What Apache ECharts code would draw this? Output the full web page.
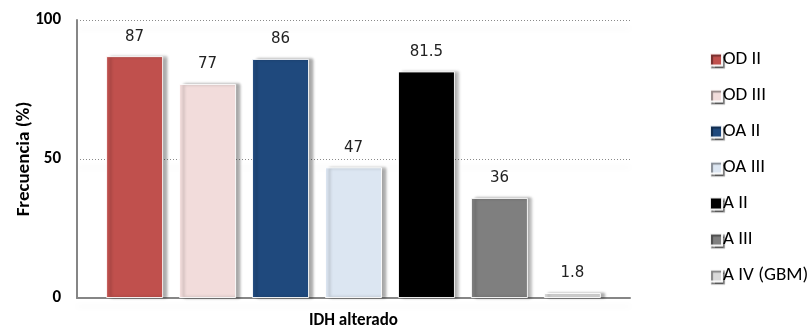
<!DOCTYPE html>
<html>
<head>
<meta charset="utf-8">
<script src="https://cdn.jsdelivr.net/npm/echarts@6/dist/echarts.min.js"></script>
<style>
  html, body { margin: 0; padding: 0; background: #fff; }
  #chart { width: 811px; height: 329px; }
</style>
</head>
<body>
<div id="chart"></div>
<script>
// IDH alteration frequency by tumour type and grade
const categories = ['IDH alterado'];
const seriesNames = ['OD II', 'OD III', 'OA II', 'OA III', 'A II', 'A III', 'A IV (GBM)'];
const values = [87, 77, 86, 47, 81.5, 36, 1.8];
const colors = ['#C0504D', '#F2DCDB', '#1F497D', '#DCE6F2', '#000000', '#7F7F7F', '#D9D9D9'];
const yTicks = [0, 50, 100];

const font = 'Calibri, Carlito, "Liberation Sans Narrow", "Liberation Sans", Arial, sans-serif';

const series = seriesNames.map((name, i) => ({
  name: name,
  type: 'bar',
  barWidth: 57,
  barGap: '28%',
  data: [values[i]],
  itemStyle: {
    color: colors[i],
    borderColor: 'rgba(255,255,255,0.9)',
    borderWidth: 1,
    shadowColor: 'rgba(0,0,0,0.35)',
    shadowBlur: 3,
    shadowOffsetX: 4,
    shadowOffsetY: 0
  },
  label: {
    show: true,
    position: 'top',
    distance: 12,
    color: '#222',
    fontSize: 15,
    fontFamily: '"DejaVu Sans", sans-serif',
    formatter: p => String(p.value)
  }
}));

const chart = echarts.init(document.getElementById('chart'));
chart.setOption({
  animation: false,
  color: colors,
  grid: { left: 77, right: 181, top: 20, bottom: 30, containLabel: false },
  legend: {
    orient: 'vertical',
    left: 704,
    top: 45,
    itemWidth: 12,
    itemHeight: 12,
    itemGap: 17,
    icon: 'rect',
    textStyle: { color: '#000', fontSize: 19, fontFamily: font, padding: [0, 0, 0, -4] },
    itemStyle: {
      shadowColor: 'rgba(0,0,0,0.45)',
      shadowBlur: 1,
      shadowOffsetX: 2,
      shadowOffsetY: 2
    },
    data: seriesNames
  },
  xAxis: {
    type: 'category',
    data: categories,
    axisLine: { show: true, lineStyle: { color: '#868686', width: 2 } },
    axisTick: { show: false },
    axisLabel: { color: '#000', fontWeight: 'bold', fontSize: 17, fontFamily: font, margin: 14 }
  },
  yAxis: {
    type: 'value',
    min: yTicks[0],
    max: yTicks[yTicks.length - 1],
    interval: 50,
    name: 'Frecuencia (%)',
    nameLocation: 'middle',
    nameGap: 43,
    nameMoveOverlap: false,
    nameTextStyle: { color: '#000', fontWeight: 'bold', fontSize: 19, fontFamily: font },
    axisLine: { show: true, lineStyle: { color: '#868686', width: 2 } },
    axisTick: { show: false },
    axisLabel: { color: '#000', fontWeight: 'bold', fontSize: 17, fontFamily: font, margin: 16 },
    splitLine: {
      show: true,
      lineStyle: {
        color: '#8a8a8a',
        type: [1, 2],
        width: 1,
        shadowColor: 'rgba(0,0,0,0.22)',
        shadowBlur: 6,
        shadowOffsetY: 8
      }
    }
  },
  series: series
});
</script>
</body>
</html>
